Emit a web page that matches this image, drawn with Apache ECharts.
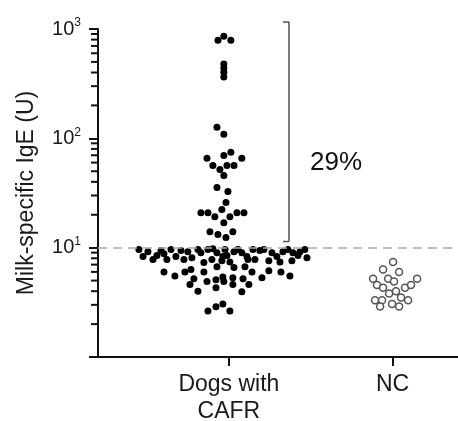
<!DOCTYPE html>
<html>
<head>
<meta charset="utf-8">
<script src="https://cdn.jsdelivr.net/npm/echarts@6/dist/echarts.min.js"></script>
<style>
  html, body { margin: 0; padding: 0; background: #fff; }
  #main { width: 458px; height: 421px; }
</style>
</head>
<body>
<div id="main"></div>
<script>
// groups on the x axis (0 = dogs with CAFR, 1 = NC)
var categories = ['Dogs with\nCAFR', 'NC'];

// dogs with CAFR: horizontal spread of each dot and its IgE value (U)
var cafrJitter = [-0.067, -0.031, 0.012, -0.031, -0.031, -0.031, -0.031, -0.073, -0.031,
    -0.134, -0.031, 0.012, 0.079, -0.098, -0.055, -0.012, 0.031, -0.031, -0.073, -0.006,
    -0.018, -0.043, -0.086, 0.006, -0.171, -0.128, 0.049, 0.092, -0.031, -0.116, -0.067, -0.018, 0.024,
    -0.550, -0.525, -0.495, -0.464, -0.440, -0.415, -0.397, -0.354, -0.379, -0.324, -0.293, -0.275,
    -0.251, -0.226, -0.189, -0.171, -0.128, -0.153, -0.104,
    -0.397, -0.330, -0.269, -0.232, -0.214, -0.238, -0.189, -0.153, -0.134, -0.079, -0.079,
    -0.098, -0.073, -0.024, -0.037, -0.012, 0.031, 0.055, 0.079, 0.110, 0.147, 0.189, 0.214, 0.263,
    0.293, 0.330, 0.360, 0.391, 0.422, 0.434, 0.464, 0.477,
    -0.073, -0.043, 0.006, 0.031, 0.098, 0.116, 0.159, 0.244, 0.312, 0.385,
    -0.037, -0.031, 0.024, 0.024, 0.086, 0.122, 0.141, 0.079, 0.202, 0.244, 0.318, 0.373,
    -0.128, -0.079, -0.037, 0.006];
var cafrValues = [790, 860, 790, 478, 439, 403, 363, 126, 109,
    65.6, 69.8, 74.5, 65.6, 56.5, 52, 56.5, 56.5, 45.8, 35.5, 32.6,
    25.9, 22.3, 19.2, 19.2, 20.9, 20.9, 20.9, 20.9, 16.9, 14.0, 13.2, 12.4, 14.0,
    9.6, 8.3, 9.2, 7.8, 8.5, 9.4, 8.8, 9.6, 7.8, 8.3, 9.4, 7.8,
    9.2, 8.1, 9.6, 9.0, 9.6, 7.3, 7.8,
    6.0, 5.5, 6.0, 6.3, 5.2, 4.6, 4.0, 6.0, 4.9, 5.1, 4.3,
    9.8, 9.0, 9.6, 8.3, 8.5, 9.2, 9.6, 9.0, 8.3, 9.6, 9.4, 9.6, 9.0,
    8.3, 9.2, 9.6, 9.0, 8.5, 9.2, 9.6, 8.1,
    6.7, 7.6, 7.4, 6.6, 6.7, 7.8, 7.8, 7.6, 7.4, 7.6,
    5.4, 4.9, 5.3, 4.6, 5.2, 4.6, 6.0, 3.95, 5.3, 6.15, 6.0, 5.5,
    2.64, 2.88, 3.06, 2.64];

// NC (controls)
var ncJitter = [0.003, -0.058, 0.040, -0.119, -0.027, 0.009, 0.150, -0.095, -0.058, 0.076,
    0.113, -0.021, 0.021, 0.052, -0.107, -0.064, 0.095, -0.076, -0.003, 0.040];
var ncValues = [7.4, 6.3, 6.0, 5.2, 5.2, 4.9, 5.2, 4.55, 4.3, 4.3,
    4.55, 3.8, 4.0, 3.5, 3.3, 3.3, 3.3, 2.9, 3.05, 2.9];

var cutoff = 10;
var bracketRange = [11.4, 1160];
var bracketText = '29%';

var minorTicks = [2, 3, 4, 5, 6, 7, 8, 9, 20, 30, 40, 50, 60, 70, 80, 90, 200, 300, 400, 500, 600, 700, 800, 900];

var FONT = 'Liberation Sans';
var X_MIN = -0.8, X_MAX = 1.4;

function toPoints(center, jitter, values) {
    var out = [];
    for (var i = 0; i < values.length; i++) {
        out.push([center + jitter[i], values[i]]);
    }
    return out;
}

var myChart = echarts.init(document.getElementById('main'), null, { renderer: 'canvas' });

var option = {
    backgroundColor: '#fff',
    animation: false,
    grid: { left: 98, right: 0, top: 29, bottom: 64, containLabel: false, outerBoundsMode: 'none' },
    xAxis: {
        type: 'value',
        min: X_MIN,
        max: X_MAX,
        splitLine: { show: false },
        axisLine: { onZero: false, lineStyle: { color: '#111', width: 2 } },
        axisTick: { show: true, customValues: [0, 1], length: 9, lineStyle: { color: '#111', width: 2 } },
        axisLabel: {
            customValues: [0, 1],
            margin: 14,
            fontFamily: FONT,
            fontSize: 23,
            lineHeight: 27,
            color: '#1a1a1a',
            formatter: function (v) { return categories[Math.round(v)]; }
        }
    },
    yAxis: {
        type: 'log',
        logBase: 10,
        min: 1,
        max: 1000,
        splitLine: { show: false },
        name: 'Milk-specific IgE (U)',
        nameLocation: 'middle',
        nameGap: 60,
        nameRotate: 90,
        nameTextStyle: { fontFamily: FONT, fontSize: 23, color: '#1a1a1a' },
        axisLine: { onZero: false, lineStyle: { color: '#111', width: 2 } },
        axisTick: { show: true, length: 9, lineStyle: { color: '#111', width: 2 } },
        axisLabel: {
            margin: 17,
            formatter: function (v) {
                var e = Math.round(Math.log10(v));
                if (e === 0) return '';
                return '{b|10}{s|' + e + '}';
            },
            rich: {
                b: { fontFamily: FONT, fontSize: 20, color: '#1a1a1a', lineHeight: 24 },
                s: { fontFamily: FONT, fontSize: 12, color: '#1a1a1a', verticalAlign: 'top', lineHeight: 14 }
            }
        }
    },
    series: [
        {
            name: 'Dogs with CAFR',
            type: 'scatter',
            symbol: 'circle',
            symbolSize: 7,
            itemStyle: { color: '#000', opacity: 1 },
            data: toPoints(0, cafrJitter, cafrValues),
            markLine: {
                silent: true,
                symbol: 'none',
                label: { show: false },
                lineStyle: { color: '#aaa', type: [9, 6], width: 1.5 },
                data: [{ yAxis: cutoff }]
            },
            z: 3
        },
        {
            name: 'NC',
            type: 'scatter',
            symbol: 'circle',
            symbolSize: 7,
            itemStyle: { color: '#fff', borderColor: '#555', borderWidth: 1.5, opacity: 1 },
            data: toPoints(1, ncJitter, ncValues),
            z: 3
        },
        {
            // minor ticks of the log axis, placed on the y axis line
            type: 'scatter',
            clip: false,
            silent: true,
            symbol: 'rect',
            symbolSize: [6, 2],
            symbolOffset: [-4, 0],
            itemStyle: { color: '#111', opacity: 1 },
            data: minorTicks.map(function (v) { return [X_MIN, v]; }),
            z: 4
        },
        {
            type: 'line',
            clip: false,
            symbol: 'none',
            silent: true,
            lineStyle: { color: '#555', width: 1.5 },
            data: [[0.33, bracketRange[1]], [0.367, bracketRange[1]], [0.367, bracketRange[0]], [0.33, bracketRange[0]]]
        },
        {
            type: 'scatter',
            symbolSize: 0,
            silent: true,
            itemStyle: { opacity: 1 },
            label: {
                show: true,
                position: 'inside',
                formatter: bracketText,
                fontFamily: FONT,
                fontSize: 26,
                color: '#111'
            },
            data: [[0.655, 60]]
        }
    ]
};

myChart.setOption(option);
</script>
</body>
</html>
